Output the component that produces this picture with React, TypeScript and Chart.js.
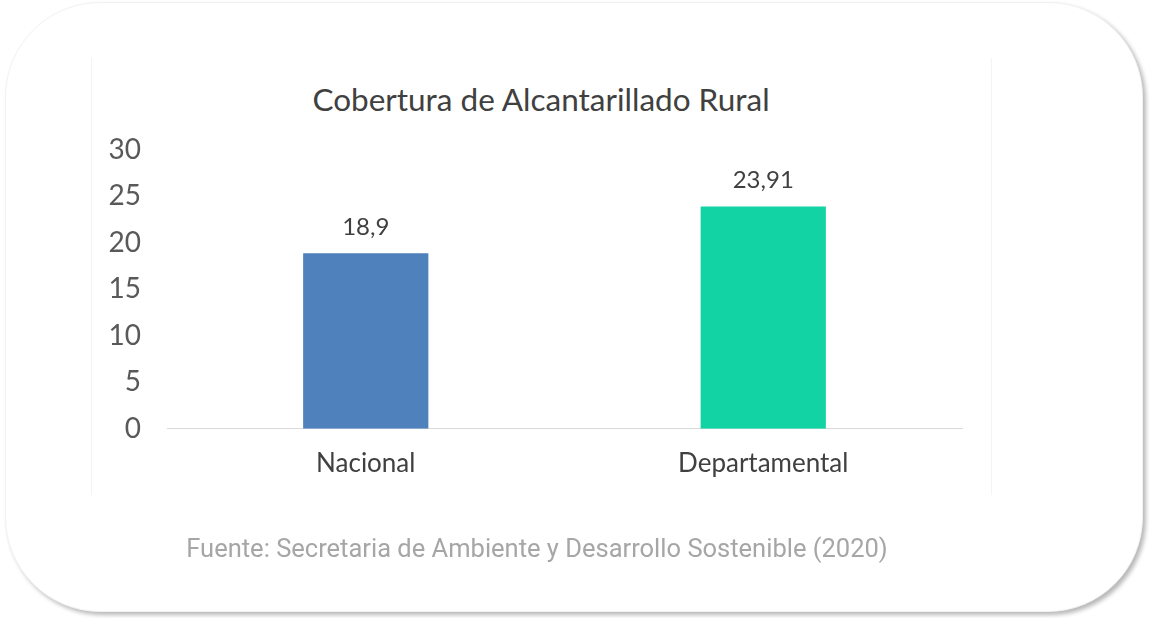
import React, { useEffect, useRef } from "react";
import { Chart, registerables } from "chart.js";

Chart.register(...registerables);

const categories = ["Nacional", "Departamental"];
const values = [18.9, 23.91];
const barColors = ["#4F81BD", "#12D3A4"];
const yMin = 0;
const yMax = 30;
const yStep = 5;
const titleText = "Cobertura de Alcantarillado Rural";
const sourceText = "Fuente: Secretaria de Ambiente y Desarrollo Sostenible (2020)";

const formatValue = (v: number) => String(v).replace(".", ",");

const valueLabels = {
  id: "valueLabels",
  afterDatasetsDraw(chart: any) {
    const ctx = chart.ctx;
    const meta = chart.getDatasetMeta(0);
    ctx.save();
    ctx.font = "normal 24px Lato";
    ctx.fillStyle = "#404040";
    ctx.textAlign = "center";
    ctx.textBaseline = "middle";
    meta.data.forEach((bar: any, i: number) => {
      ctx.fillText(formatValue(values[i]), bar.x, bar.y - 26);
    });
    ctx.restore();
  },
};

export default function App() {
  const canvasRef = useRef<HTMLCanvasElement | null>(null);

  useEffect(() => {
    if (!canvasRef.current) return;
    const chart = new Chart(canvasRef.current, {
      type: "bar",
      data: {
        labels: categories,
        datasets: [
          {
            data: values,
            backgroundColor: barColors,
            borderWidth: 0,
            barPercentage: 0.315,
            categoryPercentage: 1,
          },
        ],
      },
      options: {
        animation: false,
        responsive: true,
        maintainAspectRatio: false,
        layout: { padding: { left: 87, right: 189, top: 150, bottom: 120 } },
        plugins: {
          legend: { display: false },
          tooltip: { enabled: false },
          title: { display: false },
        },
        scales: {
          x: {
            grid: { display: false, drawTicks: false },
            border: { display: true, color: "#d9d9d9", width: 1 },
            ticks: {
              color: "#404040",
              font: { family: "Lato", size: 26 },
              padding: 19,
            },
          },
          y: {
            min: yMin,
            max: yMax,
            grid: { display: false, drawTicks: false },
            border: { display: false },
            ticks: {
              stepSize: yStep,
              color: "#595959",
              font: { family: "Lato", size: 28 },
              padding: 26,
            },
            afterFit(scale: any) {
              scale.width = 80;
            },
          },
        },
      },
      plugins: [valueLabels],
    });
    return () => chart.destroy();
  }, []);

  return (
    <div style={{ position: "fixed", left: 0, top: 0, width: 1151, height: 618, background: "#ffffff", overflow: "hidden" }}>
      <div
        style={{
          position: "absolute",
          left: 5,
          top: 2,
          width: 1138,
          height: 610,
          borderRadius: 95,
          background: "#ffffff",
          border: "1px solid #f2f2f2",
          boxSizing: "border-box",
          boxShadow: "3px 3px 4px rgba(0,0,0,0.28)",
        }}
      />
      <div
        style={{
          position: "absolute",
          left: 91,
          top: 58,
          width: 899,
          height: 437,
          borderLeft: "1px solid #f4f4f4",
          borderRight: "1px solid #f4f4f4",
        }}
      />
      <div
        style={{
          position: "absolute",
          left: 0,
          top: 80,
          width: 1082,
          textAlign: "center",
          fontFamily: "Lato",
          fontSize: 31.5,
          lineHeight: "38px",
          color: "#404040",
          whiteSpace: "nowrap",
        }}
      >
        {titleText}
      </div>
      <div style={{ position: "absolute", left: 0, top: 0, width: 1151, height: 618 }}>
        <canvas ref={canvasRef} />
      </div>
      <div
        style={{
          position: "absolute",
          left: 0,
          top: 533,
          width: 1074,
          textAlign: "center",
          fontFamily: "Roboto",
          fontSize: 25.5,
          lineHeight: "30px",
          color: "#a6a6a6",
          whiteSpace: "nowrap",
        }}
      >
        {sourceText}
      </div>
    </div>
  );
}
